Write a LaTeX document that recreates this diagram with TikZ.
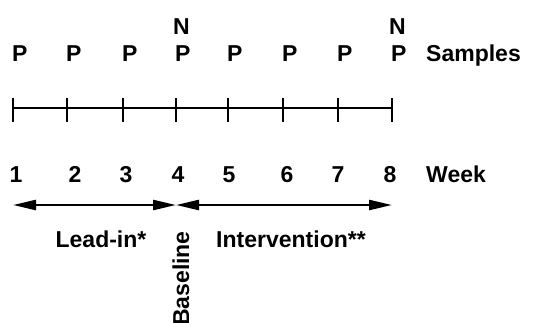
\documentclass[tikz,border=0pt]{standalone}
\usepackage{fontspec}
\setmainfont{Liberation Sans}
\usetikzlibrary{arrows.meta}
\begin{document}
\begin{tikzpicture}[x=1pt,y=-1pt,
  lbl/.style={font=\fontsize{23}{27}\selectfont\bfseries, inner sep=0pt, anchor=base},
  lblw/.style={lbl, anchor=base west},
  axisline/.style={line width=2.4pt},
  period/.style={line width=2.4pt, {Triangle[length=23pt,width=10pt]}-{Triangle[length=23pt,width=10pt]}}
]
\useasboundingbox (0,0) rectangle (540,322);
% axis coordinates
\foreach \i/\x in {1/13,2/67,3/123,4/176,5/228,6/283,7/338,8/392}{
  \coordinate (t\i) at (\x,108);
  \coordinate (tu\i) at (\x,98);
  \coordinate (td\i) at (\x,122);
  \node[lblw] (p\i) at (\x-1,61) {P};
}
\draw[axisline] (t1) -- (t8);
\foreach \i in {1,...,8}{ \draw[axisline] (tu\i) -- (td\i); }
\node[lblw] (n4) at (173,34) {N};
\node[lblw] (n8) at (389,34) {N};
\node[lblw] (samples) at (426,61) {Samples};
% weeks
\foreach \i/\x in {1/16,2/75,3/126,4/178,5/229,6/287,7/338,8/390}{
  \node[lbl] (w\i) at (\x,182) {\i};
}
\node[lblw] (week) at (426,182) {Week};
% periods
\coordinate (a1) at (13,205);
\coordinate (a4) at (176,205);
\coordinate (a8) at (392,205);
\draw[period] (a1) -- (a4);
\draw[period] (a4) -- (a8);
\node[lbl] (leadin) at (101,247) {Lead-in*};
\node[lbl] (interv) at (291,247) {Intervention**};
\node[lbl, anchor=base east, rotate=90] (baseline) at (189,231) {Baseline};
\end{tikzpicture}
\end{document}
